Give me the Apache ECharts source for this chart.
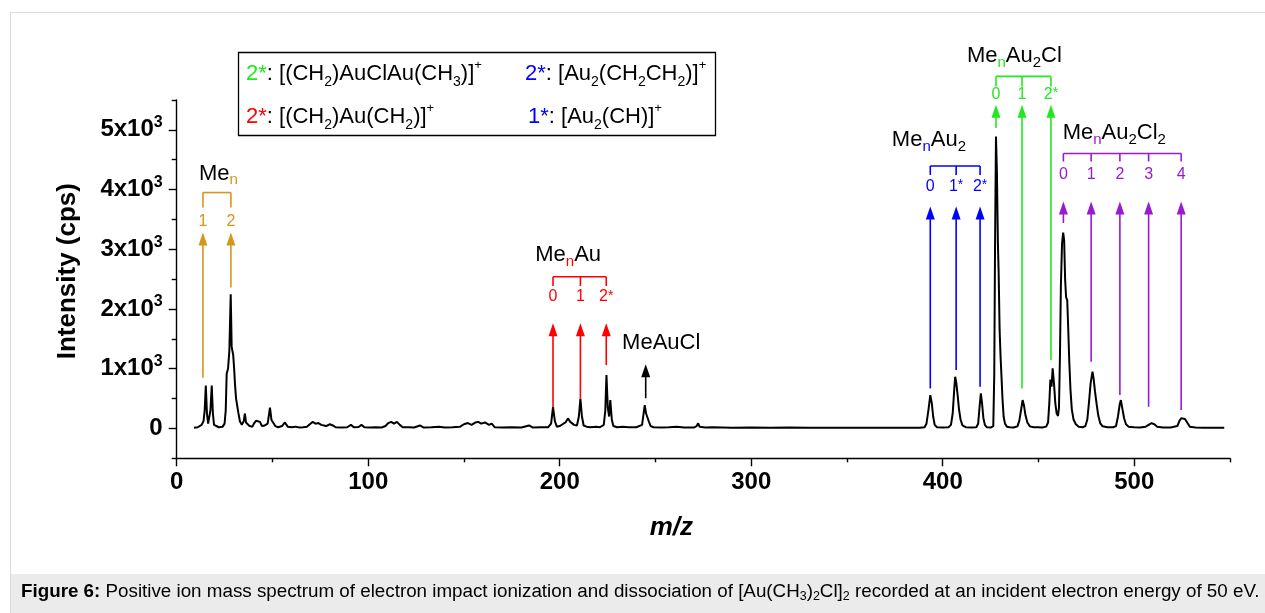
<!DOCTYPE html>
<html>
<head>
<meta charset="UTF-8">
<title>Positive ion mass spectrum</title>
<script src="https://cdn.jsdelivr.net/npm/echarts@6/dist/echarts.min.js"></script>
<style>
  html, body { margin: 0; padding: 0; background: #fff; }
  #main { width: 1265px; height: 613px; }
</style>
</head>
<body>
<div id="main"></div>
<script>
// spectrum: [m/z, intensity (cps)]
var spectrum = [
  [9, 10], [10, 15], [11, 20], [12, 40], [13, 60], [14, 120], [14.6, 300], [15.2, 720], [15.8, 250],
  [16.4, 80], [17, 100], [17.6, 300], [18.3, 720], [18.9, 250], [19.5, 60], [20.5, 30], [22, 20],
  [24, 30], [25, 80], [25.6, 300], [26.1, 920], [26.8, 1000], [27.5, 1300], [28.2, 2245], [28.7, 1370],
  [29.1, 1300], [29.5, 1230], [30, 1000], [30.4, 760], [31, 500], [31.6, 380], [32.2, 260], [33, 120],
  [34, 60], [35, 120], [35.6, 250], [36.2, 100], [37, 80], [38, 40], [39.5, 30], [40.5, 90], [41.5, 130],
  [42.5, 150], [43.5, 110], [44.5, 40], [46, 50], [47.5, 80], [48.7, 350], [49.5, 140], [50.5, 90],
  [51.5, 40], [53, 20], [55, 40], [56.5, 100], [58, 30], [60, 20], [62, 30], [64, 15], [66, 20], [68, 30],
  [69.5, 70], [71, 110], [72.5, 80], [74, 90], [75.5, 60], [76.5, 90], [78, 40], [80, 70], [81.5, 50],
  [83, 20], [86, 15], [89, 20], [91, 60], [92.5, 20], [95, 25], [96.5, 60], [98, 20], [101, 15], [104, 20],
  [107, 15], [109, 40], [110.5, 90], [112, 110], [113.5, 80], [115, 110], [116.5, 60], [118, 20], [121, 20],
  [124, 15], [127, 50], [129, 15], [133, 20], [137, 30], [140, 15], [144, 20], [148, 30], [150, 70],
  [152, 90], [154, 60], [156, 100], [157.5, 110], [159, 80], [161, 100], [163, 60], [164.5, 80], [166, 20],
  [170, 15], [175, 20], [180, 15], [184, 50], [186, 15], [190, 20], [194, 20], [195.5, 80], [196.5, 357],
  [197.5, 120], [198.5, 30], [200, 40], [201.5, 70], [203, 100], [204.3, 168], [205.5, 110], [206.5, 130],
  [207.5, 60], [209, 50], [210, 200], [210.8, 500], [211.6, 200], [212.5, 50], [214, 30], [216, 20],
  [219, 30], [221, 20], [223, 60], [223.8, 300], [224.4, 893], [225.1, 350], [225.8, 200], [226.4, 475],
  [227.2, 150], [228, 40], [230, 20], [233, 30], [236, 20], [240, 20], [243, 60], [243.8, 250], [244.4, 390],
  [245.1, 250], [245.8, 260], [246.5, 120], [247.5, 40], [249, 20], [253, 15], [257, 20], [261, 30],
  [265, 15], [270, 15], [271.5, 40], [272.3, 85], [273, 30], [276, 15], [280, 20], [290, 10], [300, 15],
  [310, 10], [320, 15], [330, 10], [340, 12], [350, 10], [360, 12], [370, 10], [380, 12], [388, 10],
  [390.5, 20], [391.5, 80], [392.5, 300], [393.5, 558], [394.3, 420], [395, 200], [395.8, 60], [397, 20],
  [400, 15], [403, 20], [404.3, 60], [405.2, 250], [406, 650], [406.5, 866], [407.1, 760], [407.8, 550],
  [408.5, 320], [409.3, 150], [410.3, 50], [412, 20], [415, 15], [417.5, 20], [418.5, 80], [419.2, 350],
  [419.9, 586], [420.5, 430], [421.2, 180], [422, 60], [423, 20], [425, 15], [426.4, 40], [426.9, 900],
  [427.3, 3000], [427.8, 4890], [428.3, 4280], [428.8, 3100], [429.2, 2600], [429.7, 1650], [430.2, 1200],
  [430.6, 925], [431.2, 500], [431.8, 195], [432.5, 80], [433.5, 30], [435, 20], [437, 15], [439, 35],
  [440, 130], [441, 330], [441.7, 475], [442.4, 390], [443.2, 220], [444.2, 100], [445.5, 35], [447.5, 20],
  [450, 20], [452, 15], [454, 30], [455, 100], [455.7, 450], [456.2, 820], [456.8, 700], [457.4, 1005],
  [458.1, 750], [458.8, 420], [459.5, 250], [460.2, 210], [460.7, 350], [461.2, 1200], [461.7, 2400],
  [462.3, 3100], [462.9, 3280], [463.4, 3150], [463.9, 2500], [464.4, 2200], [465, 2150], [465.5, 1700],
  [466.1, 1100], [466.7, 650], [467.4, 320], [468.3, 150], [469.5, 70], [471, 30], [473, 20], [474.5, 40],
  [475.5, 150], [476.4, 450], [477.2, 750], [478.2, 950], [478.8, 830], [479.5, 620], [480.3, 420],
  [481.2, 220], [482.2, 90], [483.5, 35], [486, 20], [489, 20], [490.5, 40], [491.5, 200], [492.4, 400],
  [493, 475], [493.8, 330], [494.7, 170], [495.7, 70], [497, 30], [500, 20], [503, 15], [506, 30],
  [507.5, 60], [509, 90], [510.5, 70], [512, 30], [515, 15], [519, 15], [522.5, 40], [523.5, 120],
  [524.5, 170], [525.5, 150], [526.5, 160], [527.8, 90], [529, 30], [532, 15], [536, 10], [540, 12],
  [544, 10], [547, 10]
];

// axis ticks
var xLabels = [0, 100, 200, 300, 400, 500];
var xMinor = [50, 150, 250, 350, 450, 550];
var yLabels = [0, 1000, 2000, 3000, 4000, 5000];
var yMinor = [-500, 500, 1500, 2500, 3500, 4500, 5500];

// annotation arrows: [m/z, arrow foot (cps), label]
var arrowsMe = [[13.7, 850, '1'], [28.3, 2360, '2']];
var arrowsMeAu = [[196.5, 357, '0'], [210.8, 505, '1'], [224.3, 1060, '2*']];
var arrowsMeAuCl = [[244.9, 505, '']];
var arrowsMeAu2 = [[393.5, 670, '0'], [407, 978, '1*'], [419.5, 697, '2*']];
var arrowsMeAu2Cl = [[427.8, 5030, '0'], [441.4, 670, '1'], [456.5, 1145, '2*']];
var arrowsMeAu2Cl2 = [[463, 3440, '0'], [477.5, 1115, '1'], [492.5, 558, '2'], [507.5, 362, '3'], [524.5, 307, '4']];
// levels (cps): [arrow tip, label, bracket, bracket foot, title], then title m/z
var levelsMe = [3280, 3470, 3950, 3700, 4270, 21.8];
var levelsMeAu = [1760, 2205, 2540, 2385, 2900, 204.4];
var levelsMeAuCl = [1075, 0, 0, 0, 1430, 253];
var levelsMeAu2 = [3715, 4050, 4395, 4245, 4830, 392.8];
var levelsMeAu2Cl = [5420, 5590, 5895, 5725, 6230, 437.4];
var levelsMeAu2Cl2 = [3800, 4245, 4605, 4470, 4945, 489.6];

var FONT = '"Liberation Sans", Arial, Helvetica, sans-serif';

function annotation(arrows, lv, title, color, bracket) {
  return {
    type: 'custom',
    coordinateSystem: 'cartesian2d',
    silent: true,
    clip: false,
    z: 5,
    data: arrows.map(function (a) { return [a[0], a[1], lv[0]]; }),
    encode: { x: 0, y: [1, 2] },
    renderItem: function (params, api) {
      var a = arrows[params.dataIndex];
      var foot = api.coord([a[0], a[1]]);
      var tip = api.coord([a[0], lv[0]]);
      var kids = [
        { type: 'line', shape: { x1: foot[0], y1: foot[1], x2: tip[0], y2: tip[1] + 10 },
          style: { stroke: color, lineWidth: 1.6 } },
        { type: 'polygon', shape: { points: [[tip[0], tip[1]], [tip[0] - 4.5, tip[1] + 13], [tip[0] + 4.5, tip[1] + 13]] },
          style: { fill: color } }
      ];
      if (a[2]) {
        var lp = api.coord([a[0], lv[1]]);
        kids.push({ type: 'text', x: lp[0], y: lp[1],
          style: { text: a[2].replace('*', '{st|*}'), align: 'center', verticalAlign: 'middle',
            fontSize: 16, fontFamily: FONT, fill: color,
            rich: { st: { fontSize: 14, fontFamily: FONT, fill: color, verticalAlign: 'top', lineHeight: 11 } } } });
      }
      if (params.dataIndex === 0) {
        if (bracket) {
          var b0 = api.coord([arrows[0][0], lv[2]]);
          var b1 = api.coord([arrows[arrows.length - 1][0], lv[2]]);
          kids.push({ type: 'line', shape: { x1: b0[0], y1: b0[1], x2: b1[0], y2: b1[1] },
            style: { stroke: color, lineWidth: 1.6 } });
          arrows.forEach(function (ar) {
            var t0 = api.coord([ar[0], lv[2]]);
            var t1 = api.coord([ar[0], lv[3]]);
            kids.push({ type: 'line', shape: { x1: t0[0], y1: t0[1], x2: t1[0], y2: t1[1] },
              style: { stroke: color, lineWidth: 1.6 } });
          });
        }
        var tp = api.coord([lv[5], lv[4]]);
        kids.push({ type: 'text', x: tp[0], y: tp[1],
          style: { text: title, align: 'center', verticalAlign: 'middle', fontSize: 22, lineHeight: 28,
            fontFamily: FONT, fill: '#000',
            rich: {
              n: { fontSize: 15, lineHeight: 15, verticalAlign: 'bottom', fontFamily: FONT, fill: color },
              s: { fontSize: 15, lineHeight: 15, verticalAlign: 'bottom', fontFamily: FONT, fill: '#000' }
            } } });
      }
      return { type: 'group', children: kids };
    }
  };
}

var legendRich = {
  g: { fontSize: 22, fontFamily: FONT, fill: '#22e822' },
  r: { fontSize: 22, fontFamily: FONT, fill: '#ff0000' },
  b: { fontSize: 22, fontFamily: FONT, fill: '#0000ff' },
  sub: { fontSize: 14, fontFamily: FONT, fill: '#000', verticalAlign: 'bottom', lineHeight: 14 },
  sup: { fontSize: 13, fontFamily: FONT, fill: '#000', verticalAlign: 'top', lineHeight: 13 }
};
function legendText(x, y, text) {
  return { type: 'text', x: x, y: y, z: 20,
    style: { text: text, fontSize: 22, lineHeight: 30, fontFamily: FONT, fill: '#000', verticalAlign: 'middle', rich: legendRich } };
}

var myChart = echarts.init(document.getElementById('main'));
myChart.setOption({
  backgroundColor: '#fff',
  animation: false,
  grid: { left: 176.7, right: 35, top: 100, bottom: 154.7, outerBoundsMode: 'none' },
  xAxis: [{
    type: 'value', min: 0, max: 550, position: 'bottom',
    name: 'm/z', nameLocation: 'middle', nameGap: 57,
    nameTextStyle: { fontSize: 26, fontWeight: 'bold', fontStyle: 'italic', fontFamily: FONT, color: '#000', padding: [0, 64, 0, 0] },
    axisLine: { onZero: false, lineStyle: { color: '#000', width: 1.4 } },
    axisTick: { customValues: xLabels, length: 8, lineStyle: { color: '#000', width: 1.4 } },
    axisLabel: { customValues: xLabels, margin: 12, fontSize: 24, fontWeight: 'bold', fontFamily: FONT, color: '#000' },
    splitLine: { show: false }
  }, {
    type: 'value', min: 0, max: 550, position: 'bottom', offset: 0,
    axisLine: { show: false, onZero: false },
    axisTick: { customValues: xMinor, length: 4, lineStyle: { color: '#000', width: 1.4 } },
    axisLabel: { show: false },
    splitLine: { show: false }
  }],
  yAxis: [{
    type: 'value', min: -500, max: 5500, position: 'left',
    name: 'Intensity (cps)', nameLocation: 'middle', nameGap: 96,
    nameTextStyle: { fontSize: 26, fontWeight: 'bold', fontFamily: FONT, color: '#000', padding: [0, 0, 0, 16] },
    axisLine: { onZero: false, lineStyle: { color: '#000', width: 1.4 } },
    axisTick: { customValues: yLabels, length: 8, lineStyle: { color: '#000', width: 1.4 } },
    axisLabel: {
      customValues: yLabels, margin: 14,
      formatter: function (v) { return v === 0 ? '{b|0}' : '{b|' + (v / 1000) + 'x10}{s|3}'; },
      rich: {
        b: { fontSize: 24, fontWeight: 'bold', fontFamily: FONT, color: '#000', lineHeight: 30 },
        s: { fontSize: 16, fontWeight: 'bold', fontFamily: FONT, color: '#000', verticalAlign: 'top', lineHeight: 16 }
      }
    },
    splitLine: { show: false }
  }, {
    type: 'value', min: -500, max: 5500, position: 'left', offset: 0,
    axisLine: { show: false, onZero: false },
    axisTick: { customValues: yMinor, length: 5, lineStyle: { color: '#000', width: 1.4 } },
    axisLabel: { show: false },
    splitLine: { show: false }
  }],
  series: [
    {
      type: 'line', data: spectrum, showSymbol: false, sampling: 'none', z: 3,
      lineStyle: { color: '#000', width: 2 }
    },
    annotation(arrowsMe, levelsMe, 'Me{n|n}', '#d4961c', true),
    annotation(arrowsMeAu, levelsMeAu, 'Me{n|n}Au', '#ff0000', true),
    annotation(arrowsMeAuCl, levelsMeAuCl, 'MeAuCl', '#000000', false),
    annotation(arrowsMeAu2, levelsMeAu2, 'Me{n|n}Au{s|2}', '#0000ff', true),
    annotation(arrowsMeAu2Cl, levelsMeAu2Cl, 'Me{n|n}Au{s|2}Cl', '#22e822', true),
    annotation(arrowsMeAu2Cl2, levelsMeAu2Cl2, 'Me{n|n}Au{s|2}Cl{s|2}', '#9a1ad0', true)
  ],
  graphic: [
    { type: 'rect', z: -10, shape: { x: 10.5, y: 12.5, width: 1262, height: 610 }, style: { fill: 'none', stroke: '#dcdcdc', lineWidth: 1 } },
    { type: 'rect', z: -9, shape: { x: 11, y: 574, width: 1254, height: 39 }, style: { fill: '#ebebeb' } },
    { type: 'text', x: 21, y: 592, z: 20,
      style: { text: '{f|Figure 6:} Positive ion mass spectrum of electron impact ionization and dissociation of [Au(CH{sub|3}){sub|2}Cl]{sub|2} recorded at an incident electron energy of 50 eV.',
        fontSize: 18.8, lineHeight: 22, fontFamily: FONT, fill: '#000', verticalAlign: 'middle',
        rich: {
          f: { fontSize: 18.8, fontWeight: 'bold', fontFamily: FONT, fill: '#000' },
          sub: { fontSize: 12.5, fontFamily: FONT, fill: '#000', verticalAlign: 'bottom', lineHeight: 12 }
        } } },
    { type: 'rect', z: 19, shape: { x: 238.5, y: 52.5, width: 477, height: 83 }, style: { fill: '#fff', stroke: '#000', lineWidth: 1.3 } },
    legendText(246, 74, '{g|2*}: [(CH{sub|2})AuClAu(CH{sub|3})]{sup|+}'),
    legendText(525, 74, '{b|2*}: [Au{sub|2}(CH{sub|2}CH{sub|2})]{sup|+}'),
    legendText(246, 117, '{r|2*}: [(CH{sub|2})Au(CH{sub|2})]{sup|+}'),
    legendText(528, 117, '{b|1*}: [Au{sub|2}(CH)]{sup|+}')
  ]
});
</script>
</body>
</html>
